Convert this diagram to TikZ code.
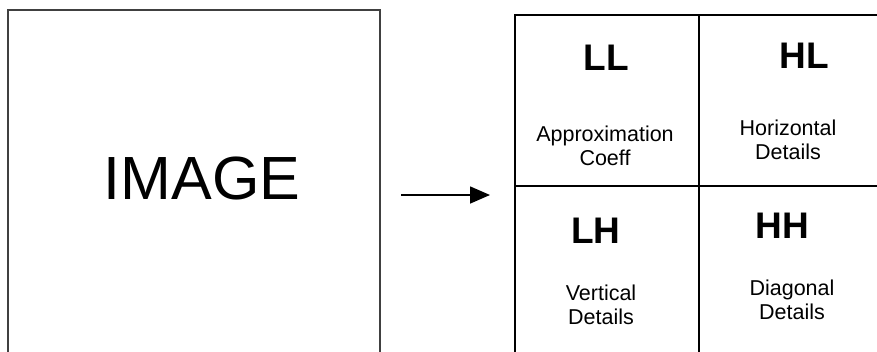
\documentclass[tikz,border=0pt]{standalone}
\usepackage{fontspec}
\setmainfont{Liberation Sans}
\usetikzlibrary{arrows.meta}
\begin{document}
\begin{tikzpicture}[x=1pt,y=-1pt,
  frame/.style={line width=1.6pt},
  band/.style={font=\bfseries\fontsize{37}{40}\selectfont,inner sep=0pt},
  caption/.style={align=center,font=\fontsize{21.5}{24}\selectfont,inner sep=0pt},
  flow/.style={line width=1.6pt,-{Triangle[length=20pt,width=17pt]}}]
  \useasboundingbox (0,0) rectangle (877,351);
  \clip (0,0) rectangle (877,351);
  % input image frame (runs past the lower edge)
  \draw[frame,draw=black!75] (8,10) rectangle (380,380);
  \node[font=\fontsize{61}{63}\selectfont,inner sep=0pt] (img) at (202,178) {IMAGE};
  % decomposition grid (runs past the right and lower edges)
  \draw[frame] (515,380) -- (515,15) -- (900,15);
  \draw[frame] (515,186) -- (900,186);
  \draw[frame] (699,15) -- (699,380);
  \coordinate (src) at (401,195);
  \coordinate (dst) at (490,195);
  \draw[flow] (src) -- (dst);
  % sub-band labels
  \node[band] (ll) at (606,58) {LL};
  \node[band] (hl) at (804,56) {HL};
  \node[band] (lh) at (596,231) {LH};
  \node[band] (hh) at (782,226) {HH};
  \node[caption] (llc) at (605,146) {Approximation\\Coeff};
  \node[caption] (hlc) at (788,140) {Horizontal\\Details};
  \node[caption] (lhc) at (601,305) {Vertical\\Details};
  \node[caption] (hhc) at (792,300) {Diagonal\\Details};
\end{tikzpicture}
\end{document}
